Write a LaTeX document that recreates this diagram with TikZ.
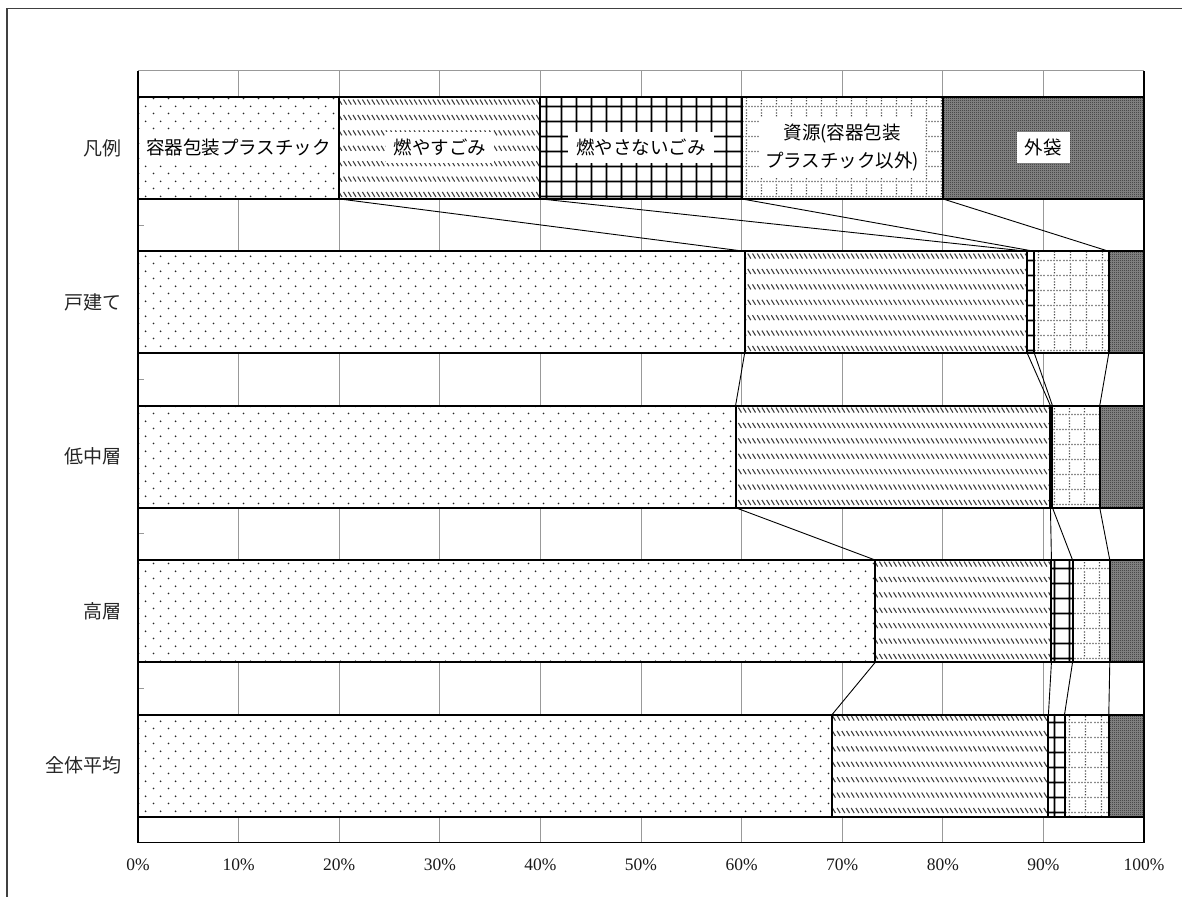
\documentclass[tikz,border=0pt]{standalone}
\usepackage{fontspec}
\setmainfont{Liberation Serif}
\newfontfamily\jp{Noto Sans CJK JP}
\usetikzlibrary{patterns}

\pgfdeclarepatternformonly{pdots}{\pgfqpoint{0bp}{0bp}}{\pgfqpoint{15bp}{15bp}}{\pgfqpoint{15bp}{15bp}}{%
  \pgfpathcircle{\pgfqpoint{3.75bp}{3.75bp}}{1bp}%
  \pgfpathcircle{\pgfqpoint{11.25bp}{11.25bp}}{1bp}%
  \pgfusepath{fill}}

\pgfdeclarepatternformonly{phatch}{\pgfqpoint{-1bp}{-1bp}}{\pgfqpoint{5.7bp}{16.4bp}}{\pgfqpoint{4.7bp}{15.4bp}}{%
  \pgfsetlinewidth{1.1bp}%
  \pgfpathmoveto{\pgfqpoint{0.5bp}{12bp}}\pgfpathlineto{\pgfqpoint{3.5bp}{7bp}}%
  \pgfusepath{stroke}}

\pgfdeclarepatternformonly{pgridthick}{\pgfqpoint{0bp}{0bp}}{\pgfqpoint{15.4bp}{15.4bp}}{\pgfqpoint{15.4bp}{15.4bp}}{%
  \pgfsetlinewidth{1.8bp}%
  \pgfpathmoveto{\pgfqpoint{0bp}{7.7bp}}\pgfpathlineto{\pgfqpoint{15.4bp}{7.7bp}}%
  \pgfpathmoveto{\pgfqpoint{7.7bp}{0bp}}\pgfpathlineto{\pgfqpoint{7.7bp}{15.4bp}}%
  \pgfusepath{stroke}}

\pgfdeclarepatternformonly{pdotgrid}{\pgfqpoint{0bp}{0bp}}{\pgfqpoint{15.4bp}{15.4bp}}{\pgfqpoint{15.4bp}{15.4bp}}{%
  \pgfpathrectangle{\pgfqpoint{0.4bp}{7.1bp}}{\pgfqpoint{1.3bp}{1.3bp}}%
  \pgfpathrectangle{\pgfqpoint{3.48bp}{7.1bp}}{\pgfqpoint{1.3bp}{1.3bp}}%
  \pgfpathrectangle{\pgfqpoint{6.56bp}{7.1bp}}{\pgfqpoint{1.3bp}{1.3bp}}%
  \pgfpathrectangle{\pgfqpoint{9.64bp}{7.1bp}}{\pgfqpoint{1.3bp}{1.3bp}}%
  \pgfpathrectangle{\pgfqpoint{12.72bp}{7.1bp}}{\pgfqpoint{1.3bp}{1.3bp}}%
  \pgfpathrectangle{\pgfqpoint{7.1bp}{0.4bp}}{\pgfqpoint{1.3bp}{1.3bp}}%
  \pgfpathrectangle{\pgfqpoint{7.1bp}{3.48bp}}{\pgfqpoint{1.3bp}{1.3bp}}%
  \pgfpathrectangle{\pgfqpoint{7.1bp}{10.02bp}}{\pgfqpoint{1.3bp}{1.3bp}}%
  \pgfpathrectangle{\pgfqpoint{7.1bp}{13.1bp}}{\pgfqpoint{1.3bp}{1.3bp}}%
  \pgfusepath{fill}}

\pgfdeclarepatternformonly{pchecker}{\pgfqpoint{0bp}{0bp}}{\pgfqpoint{2bp}{2bp}}{\pgfqpoint{2bp}{2bp}}{%
  \pgfpathrectangle{\pgfqpoint{0bp}{0bp}}{\pgfqpoint{1bp}{1bp}}%
  \pgfpathrectangle{\pgfqpoint{1bp}{1bp}}{\pgfqpoint{1bp}{1bp}}%
  \pgfusepath{fill}}

\begin{document}
\begin{tikzpicture}[x=1bp,y=-1bp,
  framel/.style={draw=black!75,line width=1.5bp},
  gridl/.style={draw=black!40,line width=1bp},
  axisl/.style={draw=black,line width=1.2bp},
  barl/.style={draw=black,line width=2bp},
  conn/.style={draw=black,line width=0.9bp},
  segA/.style={preaction={fill=white},pattern=pdots,pattern color=black!85},
  segB/.style={preaction={fill=white},pattern=phatch,pattern color=black!75},
  segC/.style={preaction={fill=white},pattern=pgridthick,pattern color=black},
  segD/.style={preaction={fill=white},pattern=pdotgrid,pattern color=black!70},
  segE/.style={preaction={fill=black!45},pattern=pchecker,pattern color=black!85},
  catl/.style={anchor=east,text=black!85,font=\jp\fontsize{19bp}{23bp}\selectfont,inner sep=0pt},
  legl/.style={fill=white,inner xsep=8bp,inner ysep=7bp,font=\jp\fontsize{18.5bp}{28bp}\selectfont,align=center},
  axl/.style={font=\fontsize{17.5bp}{20bp}\selectfont,inner sep=0pt,text=black!90}
]
\useasboundingbox (0,0) rectangle (1182,897);

% outer frame
\draw[framel] (7,897) -- (7,8.5) -- (1182,8.5);

% gridlines and ticks
\foreach \k in {1,...,9}
  \draw[gridl] ({138+100.6*\k},70.7) -- ({138+100.6*\k},842.3);
\foreach \k in {1,...,4}
  \draw[gridl] (138,{70.7+154.4*\k}) -- (144,{70.7+154.4*\k});
\draw[gridl] (138,70.7) -- (1144,70.7);

% bar fills and coordinates
\foreach \i/\a/\b/\c/\d in {0/20/40/60/80, 1/60.3/88.4/89.1/96.5, 2/59.4/90.7/90.9/95.6, 3/73.3/90.8/92.9/96.6, 4/69.0/90.5/92.1/96.5} {
  \pgfmathsetmacro\yt{96.9+154.4*\i}
  \pgfmathsetmacro\yb{198.9+154.4*\i}
  \pgfmathsetmacro\xa{138+10.06*\a}
  \pgfmathsetmacro\xb{138+10.06*\b}
  \pgfmathsetmacro\xc{138+10.06*\c}
  \pgfmathsetmacro\xd{138+10.06*\d}
  \path[segA] (138,\yt) rectangle (\xa,\yb);
  \path[segB] (\xa,\yt) rectangle (\xb,\yb);
  \path[segC] (\xb,\yt) rectangle (\xc,\yb);
  \path[segD] (\xc,\yt) rectangle (\xd,\yb);
  \path[segE] (\xd,\yt) rectangle (1144,\yb);
  \coordinate (t\i-1) at (\xa,\yt); \coordinate (b\i-1) at (\xa,\yb);
  \coordinate (t\i-2) at (\xb,\yt); \coordinate (b\i-2) at (\xb,\yb);
  \coordinate (t\i-3) at (\xc,\yt); \coordinate (b\i-3) at (\xc,\yb);
  \coordinate (t\i-4) at (\xd,\yt); \coordinate (b\i-4) at (\xd,\yb);
  \coordinate (tl\i) at (138,\yt); \coordinate (br\i) at (1144,\yb);
}

% legend labels
\node[legl,inner xsep=5bp] (lg1) at ({138+10.06*10},147.9) {容器包装プラスチック};
\node[legl] (lg2) at ({138+10.06*30},147.9) {燃やすごみ};
\node[legl] (lg3) at ({138+10.06*50},147.9) {燃やさないごみ};
\node[legl,inner xsep=5.5bp,inner ysep=6.5bp] (lg4) at ({138+10.06*70},147.9) {資源(容器包装\\プラスチック以外)};
\node[legl] (lg5) at ({138+10.06*90},147.9) {外袋};

% bar outlines
\foreach \i in {0,...,4} {
  \draw[barl] (tl\i) rectangle (br\i);
  \foreach \j in {1,...,4} \draw[barl] (t\i-\j) -- (b\i-\j);
}

% connectors
\foreach \i/\n in {0/1,1/2,2/3,3/4}
  \foreach \j in {1,...,4}
    \draw[conn] (b\i-\j) -- (t\n-\j);

% plot border
\draw[axisl] (138,70.7) -- (138,842.3) -- (1144,842.3) -- (1144,70.7);

% category labels
\node[catl] (c0) at (121.5,147.9) {凡例};
\node[catl] (c1) at (121.5,302.3) {戸建て};
\node[catl] (c2) at (121.5,456.7) {低中層};
\node[catl] (c3) at (121.5,611.1) {高層};
\node[catl] (c4) at (121.5,765.5) {全体平均};

% axis labels
\foreach \k in {0,...,10} {
  \pgfmathtruncatemacro\v{10*\k}
  \node[axl] (ax\k) at ({138+100.6*\k},865) {\v\%};
}
\end{tikzpicture}
\end{document}
